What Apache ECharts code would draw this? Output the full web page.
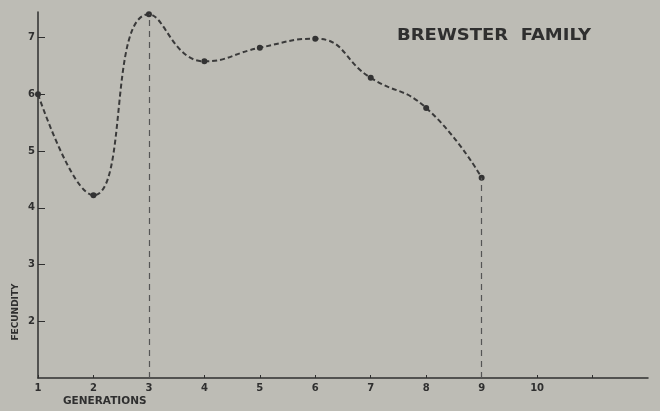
<!DOCTYPE html>
<html>
<head>
<meta charset="utf-8">
<script src="https://cdn.jsdelivr.net/npm/echarts@6/dist/echarts.min.js"></script>
<style>
  html, body { margin: 0; padding: 0; background: #bdbcb5; }
  #chart { width: 660px; height: 411px; }
</style>
</head>
<body>
<div id="chart"></div>
<script>
// Fecundity of the Brewster family across generations
const generations = [1, 2, 3, 4, 5, 6, 7, 8, 9];
const fecundity = [6.0, 4.22, 7.41, 6.58, 6.82, 6.98, 6.29, 5.76, 4.53];
const xTickLabels = ['1', '2', '3', '4', '5', '6', '7', '8', '9', '10'];
const yTickLabels = ['2', '3', '4', '5', '6', '7'];
const droplineGenerations = [3, 9];
const titleText = 'BREWSTER  FAMILY';
const xAxisName = 'GENERATIONS';
const yAxisName = 'FECUNDITY';

const ink = '#2f2f2f';
const labelFont = { fontFamily: 'DejaVu Sans', fontWeight: 'bold', fontSize: 10, color: ink };

const chart = echarts.init(document.getElementById('chart'), null, { renderer: 'canvas' });

const points = generations.map((g, i) => [g, fecundity[i]]);
const droplines = droplineGenerations.map(g => [
  { coord: [g, 1] },
  { coord: [g, fecundity[generations.indexOf(g)]] }
]);

chart.setOption({
  backgroundColor: '#bdbcb5',
  animation: false,
  grid: { left: 38, right: 12, top: 12, bottom: 33 },
  xAxis: {
    type: 'value',
    min: 1,
    max: 12,
    interval: 1,
    splitLine: { show: false },
    axisLine: { lineStyle: { color: ink, width: 1.5 } },
    axisTick: {
      inside: true, length: 3,
      customValues: xTickLabels.map(Number).concat([11]),
      lineStyle: { color: ink }
    },
    axisLabel: {
      ...labelFont,
      margin: 5,
      customValues: xTickLabels.map(Number),
      formatter: v => xTickLabels[xTickLabels.map(Number).indexOf(v)] || ''
    }
  },
  yAxis: {
    type: 'value',
    min: 1,
    max: 7.45,
    interval: 1,
    splitLine: { show: false },
    axisLine: { lineStyle: { color: ink, width: 1.5 } },
    axisTick: {
      inside: true, length: 7,
      customValues: yTickLabels.map(Number),
      lineStyle: { color: ink }
    },
    axisLabel: {
      ...labelFont,
      margin: 3,
      customValues: yTickLabels.map(Number),
      formatter: v => yTickLabels[yTickLabels.map(Number).indexOf(v)] || ''
    }
  },
  graphic: [
    {
      // wide-set lettering of the family name
      type: 'text', x: 397, y: 36, scaleX: 1.2,
      style: { text: titleText, font: 'bold 15px "DejaVu Sans"', fill: ink, verticalAlign: 'middle' }
    },
    {
      type: 'text', x: 63, y: 401,
      style: { text: xAxisName, font: 'bold 10.5px "DejaVu Sans"', fill: ink, verticalAlign: 'middle' }
    },
    {
      type: 'text', x: 16, y: 312, rotation: Math.PI / 2,
      style: { text: yAxisName, font: 'bold 9px "DejaVu Sans"', fill: ink, align: 'center', verticalAlign: 'middle' }
    }
  ],
  series: [{
    type: 'line',
    data: points,
    smooth: 0.5,
    symbol: 'circle',
    symbolSize: 6,
    itemStyle: { color: '#333' },
    lineStyle: { color: '#3a3a3a', width: 2, type: [5, 3] },
    markLine: {
      silent: true,
      symbol: 'none',
      label: { show: false },
      lineStyle: { color: '#555', width: 1.2, type: [6, 5] },
      data: droplines
    }
  }]
});
</script>
</body>
</html>
